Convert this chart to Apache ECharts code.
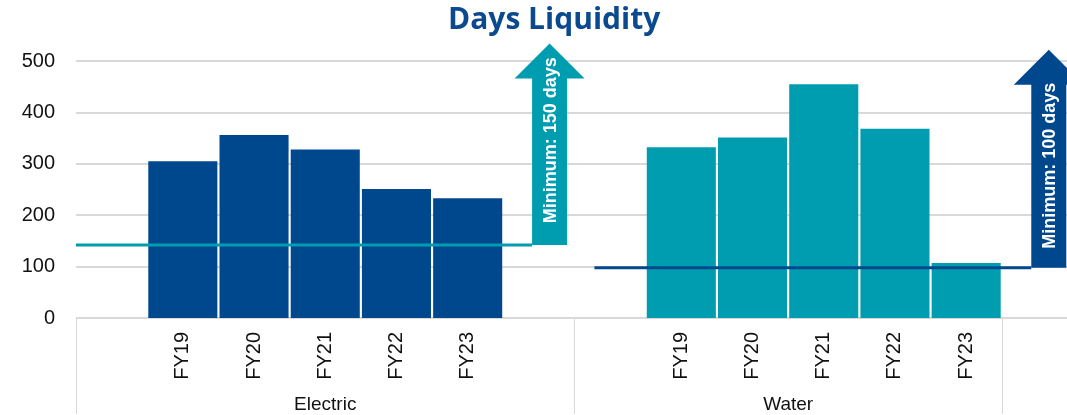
<!DOCTYPE html>
<html>
<head>
<meta charset="utf-8">
<title>Days Liquidity</title>
<script src="https://cdn.jsdelivr.net/npm/echarts@6/dist/echarts.min.js"></script>
<style>
  html, body { margin: 0; padding: 0; background: #fff; }
  #main { width: 1067px; height: 415px; }
</style>
</head>
<body>
<div id="main"></div>
<script>
// 数据
var years = ['FY19', 'FY20', 'FY21', 'FY22', 'FY23'];
var groups = ['Electric', 'Water'];
var electric = [305, 356, 328, 251, 233];
var water = [332, 351, 455, 368, 107];
var minLabels = ['Minimum: 150 days', 'Minimum: 100 days'];
var minLevels = [142, 98];
var yTicks = [0, 100, 200, 300, 400, 500];

var blue = '#00488e';
var teal = '#009db0';
var grey = '#d9d9d9';
var font = '"Liberation Sans", Arial, sans-serif';

// 类目: 空 + 年份 + 空 | 空 + 年份 | 空
var cats = [''].concat(years, [''], [''], years, ['']);
var nCat = cats.length;
var eData = [], wData = [];
for (var i = 0; i < nCat; i++) { eData.push('-'); wData.push('-'); }
for (var k = 0; k < years.length; k++) {
  eData[1 + k] = electric[k];
  wData[8 + k] = water[k];
}
// 分组边界 / 中心 (按类目位置)
var groupEdges = [0, 7, 13];
var groupCenters = [3.5, 10];

// 最低线 + 箭头 [线起点, 箭头中心, 线值, 箭头顶值, 颜色, 文字, 文字偏移]
var arrows = [
  [0, 6.65, minLevels[0], 534, teal, minLabels[0], -4],
  [7.28, 13.66, minLevels[1], 522, blue, minLabels[1], 7]
];

var myChart = echarts.init(document.getElementById('main'));
var option = {
  animation: false,
  title: {
    text: 'Days Liquidity',
    left: 443, top: 0,
    textStyle: { fontFamily: '"Open Sans", sans-serif', fontWeight: 'bold', fontSize: 30, color: '#0b4a8e' }
  },
  grid: { left: 76, right: -6, top: 61, bottom: 97, outerBoundsMode: 'none', containLabel: false },
  xAxis: [
    {
      type: 'category',
      data: cats,
      axisLine: { lineStyle: { color: grey, width: 1 } },
      axisTick: { show: false },
      axisLabel: {
        interval: 0, rotate: 90, margin: 14,
        fontFamily: font, fontSize: 20, color: '#111'
      }
    },
    {
      type: 'value',
      min: 0, max: nCat,
      position: 'bottom',
      axisLine: { show: false },
      splitLine: { show: false },
      axisTick: { show: true, customValues: groupEdges, length: 96, lineStyle: { color: grey } },
      axisLabel: {
        customValues: groupCenters,
        margin: 77,
        fontFamily: font, fontSize: 19, color: '#111',
        formatter: function (v) {
          var idx = groupCenters.indexOf(v);
          return idx >= 0 ? groups[idx] : '';
        }
      }
    }
  ],
  yAxis: {
    type: 'value',
    min: yTicks[0], max: yTicks[yTicks.length - 1], interval: 100,
    axisLine: { show: false },
    axisTick: { show: false },
    splitLine: { lineStyle: { color: grey, width: 2 } },
    axisLabel: { margin: 21, fontFamily: font, fontSize: 20, color: '#111' }
  },
  series: [
    {
      name: groups[0], type: 'bar', stack: 'g', data: eData,
      barCategoryGap: '3%',
      itemStyle: { color: blue }
    },
    {
      name: groups[1], type: 'bar', stack: 'g', data: wData,
      barCategoryGap: '3%',
      itemStyle: { color: teal }
    },
    {
      type: 'custom',
      xAxisIndex: 1,
      clip: false,
      z: 5,
      data: arrows.map(function (a) { return [a[0], a[1], a[2], a[3]]; }),
      renderItem: function (params, api) {
        var a = arrows[params.dataIndex];
        var start = api.coord([api.value(0), api.value(2)]);
        var base = api.coord([api.value(1), api.value(2)]);
        var tip = api.coord([api.value(1), api.value(3)]);
        var cx = base[0];
        var bw = 17.5, hw = 35, hh = 35;
        var pts = [
          [cx - bw, base[1]], [cx - bw, tip[1] + hh], [cx - hw, tip[1] + hh],
          [cx, tip[1]], [cx + hw, tip[1] + hh], [cx + bw, tip[1] + hh], [cx + bw, base[1]]
        ];
        return {
          type: 'group',
          children: [
            { type: 'line', shape: { x1: start[0], y1: start[1], x2: cx - bw, y2: start[1] },
              style: { stroke: a[4], lineWidth: 3 } },
            { type: 'polygon', shape: { points: pts }, style: { fill: a[4] } },
            { type: 'text', x: cx + 1, y: (tip[1] + base[1]) / 2 + a[6], rotation: Math.PI / 2,
              style: { text: a[5], fill: '#fff', font: 'bold 18px ' + font, align: 'center', verticalAlign: 'middle' } }
          ]
        };
      }
    }
  ]
};
myChart.setOption(option);
</script>
</body>
</html>
